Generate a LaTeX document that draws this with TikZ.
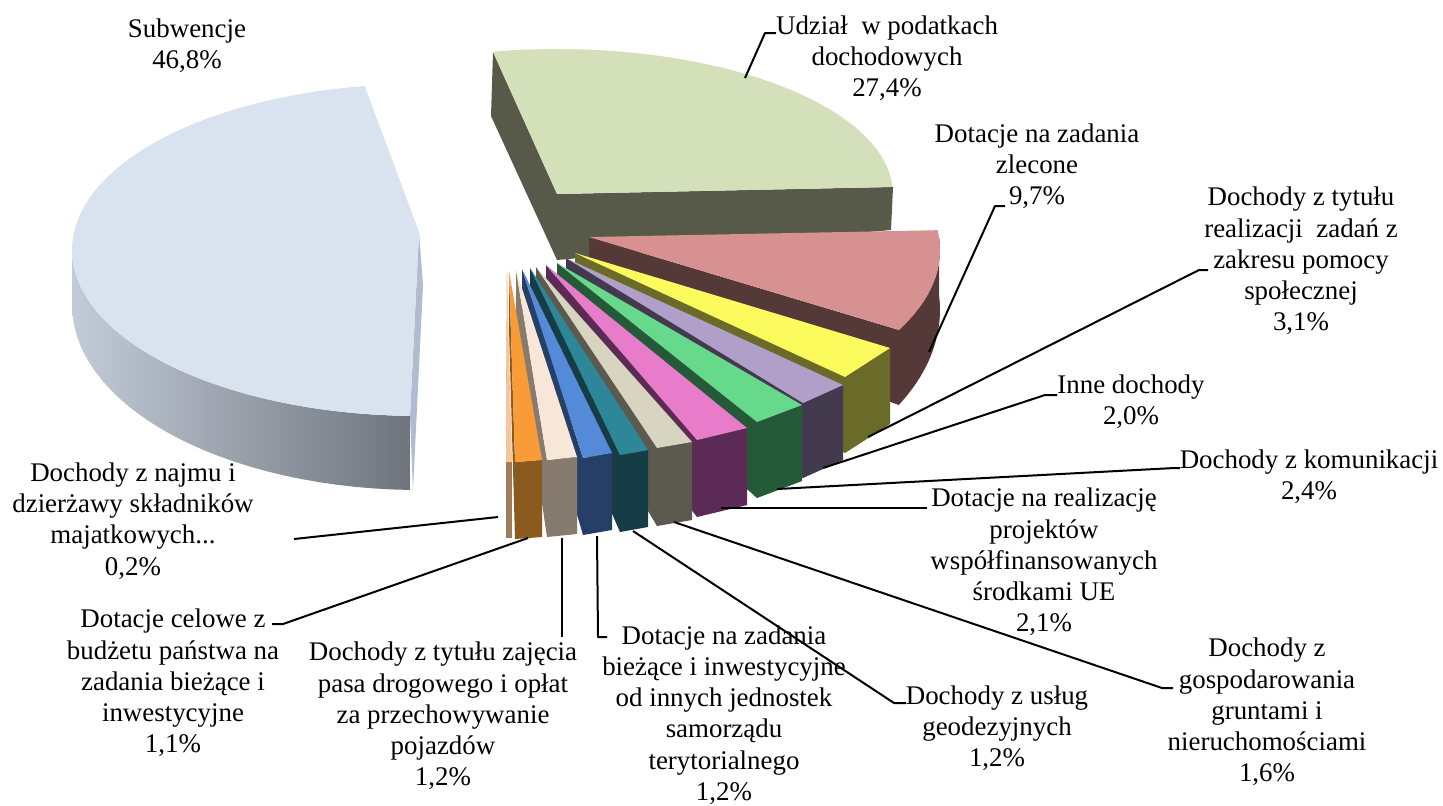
\documentclass[tikz,border=0pt]{standalone}
\usepackage{fontspec}
\setmainfont{Liberation Serif}
\usetikzlibrary{calc}

\definecolor{subTop}{HTML}{D9E3F0}
\definecolor{subLight}{HTML}{C2CBD8}
\definecolor{subDark}{HTML}{6F747C}
\definecolor{subEdge}{HTML}{B0BDD0}
\definecolor{udzTop}{HTML}{D3E0BA}
\definecolor{udzSide}{HTML}{575A49}
\definecolor{zleTop}{HTML}{D79190}
\definecolor{zleSide}{HTML}{553939}
\definecolor{ylwTop}{HTML}{FBFB5E}
\definecolor{ylwSide}{HTML}{6B6B29}
\definecolor{lavTop}{HTML}{B09FC9}
\definecolor{lavSide}{HTML}{443A50}
\definecolor{grnTop}{HTML}{66D98A}
\definecolor{grnSide}{HTML}{255A38}
\definecolor{magTop}{HTML}{E87CCB}
\definecolor{magSide}{HTML}{5C2B55}
\definecolor{bgeTop}{HTML}{D7D5C0}
\definecolor{bgeSide}{HTML}{5C594F}
\definecolor{tealTop}{HTML}{2D8799}
\definecolor{tealSide}{HTML}{163D45}
\definecolor{bluTop}{HTML}{558AD8}
\definecolor{bluSide}{HTML}{263F66}
\definecolor{pchTop}{HTML}{F8E6D8}
\definecolor{pchSide}{HTML}{877A6E}
\definecolor{orgTop}{HTML}{F99B37}
\definecolor{orgSide}{HTML}{8A5A1F}
\definecolor{najTop}{HTML}{F9C596}
\definecolor{najSide}{HTML}{9E7B5A}

\newcommand{\printBar}[6]{%
  \fill[#6] #1 -- #3 -- ($#3+(0,#4)$) -- ($#1+(0,0.75*#4)$) -- cycle;
  \fill[#6] #3 -- #2 -- ($#2+(0,#4)$) -- ($#3+(0,#4)$) -- cycle;
  \fill[#5] #1 -- #2 -- #3 -- cycle;}

\tikzset{
  lbl/.style={align=center, inner sep=0pt, font=\fontsize{13.45}{15.6}\selectfont},
  leader/.style={line width=1pt}
}

\begin{document}
\begin{tikzpicture}[x=0.5pt,y=-0.5pt,line join=round]
  \useasboundingbox (0,0) rectangle (1443,805);

  % Udzial w podatkach
  \fill[udzSide] (493,52) -- (557,194) -- (557,260) -- (491,116) -- cycle;
  \fill[udzSide] (557,194) -- (893,187) -- (891,230) -- (557,260) -- cycle;
  \fill[udzTop] (557,194) -- plot[domain=101:2.8,samples=40] ({557+336*cos(\x)},{194-145*sin(\x)}) -- cycle;

  % Subwencje
  \fill[subEdge] (419,232) -- (410,416) -- (413,490) -- (423,285) -- cycle;
  \shade[left color=subLight,right color=subDark]
    plot[domain=180:268.5,samples=30] ({419+347*cos(\x)},{250-166*sin(\x)})
    -- plot[domain=268.5:180,samples=30] ({419+347*cos(\x)},{305-185*sin(\x)}) -- cycle;
  \fill[subTop] (419,232) -- plot[domain=99:268.5,samples=60] ({419+347*cos(\x)},{250-166*sin(\x)}) -- cycle;

  % Dotacje na zadania zlecone
  \fill[zleSide] (589,237) -- (899,330) -- (899,405) -- (589,297) -- cycle;
  \fill[zleSide] plot[domain=-28:4,samples=20] ({589+351*cos(\x)},{250-170*sin(\x)})
    -- plot[domain=4:-28,samples=20] ({589+351*cos(\x)},{310-202*sin(\x)}) -- cycle;
  \fill[zleTop] (589,237) -- plot[domain=6.7:-28,samples=20] ({589+351*cos(\x)},{250-170*sin(\x)}) -- cycle;

  % small slices
  \printBar{(575,253)}{(890,348)}{(845,377)}{76}{ylwTop}{ylwSide}
  \printBar{(566,258)}{(843,385)}{(803,403)}{75}{lavTop}{lavSide}
  \printBar{(557,263)}{(802,405)}{(757,422)}{76}{grnTop}{grnSide}
  \printBar{(546,265)}{(747,428)}{(697,440)}{77}{magTop}{magSide}
  \printBar{(536,267)}{(692,442)}{(657,448)}{78}{bgeTop}{bgeSide}
  \printBar{(530,268)}{(648,450)}{(620,455)}{77}{tealTop}{tealSide}
  \printBar{(522,269)}{(612,453)}{(583,458)}{77}{bluTop}{bluSide}
  \printBar{(516,270)}{(577,457)}{(547,460)}{77}{pchTop}{pchSide}
  \printBar{(509,271)}{(542,460)}{(515,462)}{77}{orgTop}{orgSide}
  \printBar{(507,272)}{(512,462)}{(506,462)}{76}{najTop}{najSide}

  % labels
  \node[lbl] (lSub) at (187,46) {Subwencje\\46,8\%};
  \node[lbl] (lUdz) at (887,58) {Udział\ \ w podatkach\\dochodowych\\27,4\%};
  \node[lbl] (lZle) at (1037,166) {Dotacje na zadania\\zlecone\\9,7\%};
  \node[lbl] (lPom) at (1301,261) {Dochody z tytułu\\realizacji\ \ zadań z\\zakresu pomocy\\społecznej\\3,1\%};
  \node[lbl] (lInn) at (1131,402) {Inne dochody\\2,0\%};
  \node[lbl] (lKom) at (1309,477) {Dochody z komunikacji\\2,4\%};
  \node[lbl] (lUE) at (1044,562) {Dotacje na realizację\\projektów\\współfinansowanych\\środkami UE\\2,1\%};
  \node[lbl] (lGru) at (1267,712) {Dochody z\\gospodarowania\\gruntami i\\nieruchomościami\\1,6\%};
  \node[lbl] (lGeo) at (997,728) {Dochody z usług\\geodezyjnych\\1,2\%};
  \node[lbl] (lJst) at (724,715) {Dotacje na zadania\\bieżące i inwestycyjne\\od innych jednostek\\samorządu\\terytorialnego\\1,2\%};
  \node[lbl] (lPas) at (443,716) {Dochody z tytułu zajęcia\\pasa drogowego i opłat\\za przechowywanie\\pojazdów\\1,2\%};
  \node[lbl] (lCel) at (173,683) {Dotacje celowe z\\budżetu państwa na\\zadania bieżące i\\inwestycyjne\\1,1\%};
  \node[lbl] (lNaj) at (133,521) {Dochody z najmu i\\dzierżawy składników\\majatkowych...\\0,2\%};

  % leader lines
  \coordinate (tUdz) at (745,78);  \coordinate (kUdz) at (765,33);  \coordinate (eUdz) at (776,33);
  \coordinate (tZle) at (929,352); \coordinate (kZle) at (995,206); \coordinate (eZle) at (1005,206);
  \coordinate (tPom) at (868,437); \coordinate (kPom) at (1199,270); \coordinate (ePom) at (1208,270);
  \coordinate (tInn) at (823,468); \coordinate (kInn) at (1045,395); \coordinate (eInn) at (1057,395);
  \coordinate (tKom) at (777,489); \coordinate (kKom) at (1174,468); \coordinate (eKom) at (1180,468);
  \coordinate (tUE) at (721,508);  \coordinate (eUE) at (927,508);
  \coordinate (tGru) at (674,522); \coordinate (kGru) at (1162,688); \coordinate (eGru) at (1173,688);
  \coordinate (tGeo) at (633,531); \coordinate (kGeo) at (894,703); \coordinate (eGeo) at (906,703);
  \coordinate (tJst) at (597,536); \coordinate (kJst) at (598,637); \coordinate (eJst) at (607,637);
  \coordinate (tPas) at (562,538); \coordinate (ePas) at (562,637);
  \coordinate (tCel) at (528,538); \coordinate (kCel) at (283,624); \coordinate (eCel) at (272,624);
  \coordinate (tNaj) at (498,517); \coordinate (eNaj) at (294,539);

  \draw[leader] (tUdz) -- (kUdz) -- (eUdz);
  \draw[leader] (tZle) -- (kZle) -- (eZle);
  \draw[leader] (tPom) -- (kPom) -- (ePom);
  \draw[leader] (tInn) -- (kInn) -- (eInn);
  \draw[leader] (tKom) -- (kKom) -- (eKom);
  \draw[leader] (tUE) -- (eUE);
  \draw[leader] (tGru) -- (kGru) -- (eGru);
  \draw[leader] (tGeo) -- (kGeo) -- (eGeo);
  \draw[leader] (tJst) -- (kJst) -- (eJst);
  \draw[leader] (tPas) -- (ePas);
  \draw[leader] (tCel) -- (kCel) -- (eCel);
  \draw[leader] (tNaj) -- (eNaj);
\end{tikzpicture}
\end{document}
